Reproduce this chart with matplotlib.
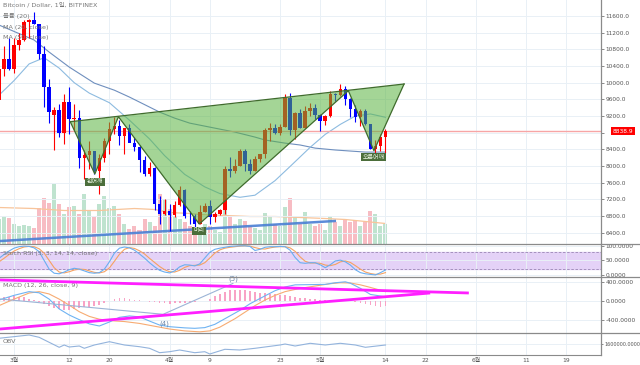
import numpy as np
import matplotlib
matplotlib.use('Agg')
import matplotlib.pyplot as plt
from matplotlib.lines import Line2D

plt.rcParams['font.family'] = ['DejaVu Sans', 'Noto Sans CJK KR']

# ---- 데이터: day index 0 = 2018-03-01 ----
days = np.arange(-3, 75)
opens = [9590, 10320, 10580, 10330, 10900, 11030, 11450, 11500, 11420, 10700, 9900, 9225, 9340, 8790,
         9540, 9140, 9150, 8200, 8260, 8350, 7880, 8200, 8600, 8900, 8950, 8720, 8920, 8550, 8450, 8140,
         7800, 7960, 7100, 6850, 6930, 6820, 7060, 7420, 6800, 6790, 6620, 6900, 7030, 6780, 6840, 6950,
         7920, 7890, 8000, 8360, 8050, 7890, 8170, 8280, 8860, 8920, 8800, 8930, 9640, 8860, 9280, 8920,
         9330, 9400, 9230, 9070, 9210, 9730, 9700, 9850, 9620, 9360, 9180, 9310, 9000, 8400, 8470, 8690]
highs = [10420, 10870, 11070, 11080, 11190, 11500, 11530, 11690, 11420, 10880, 10100, 9420, 9500, 9730,
         9890, 9480, 9350, 8390, 8600, 8350, 8280, 8680, 9050, 9180, 9100, 8920, 9020, 8700, 8500, 8230,
         8100, 7980, 7270, 7200, 7080, 7150, 7530, 7440, 6930, 6860, 7070, 7120, 7180, 6890, 6980, 8000,
         8220, 8180, 8420, 8410, 8180, 8250, 8300, 8920, 9030, 9000, 9000, 9720, 9750, 9300, 9380, 9430,
         9520, 9480, 9240, 9230, 9810, 9750, 9970, 9930, 9640, 9460, 9360, 9380, 9010, 8620, 8760, 8880]
lows = [9380, 10150, 10300, 10240, 10780, 11010, 11080, 11410, 10570, 9420, 9030, 8380, 8700, 8530,
        8780, 8870, 7960, 7700, 7920, 7800, 7330, 8100, 8300, 8780, 8500, 8300, 8570, 8370, 7850, 7770,
        7760, 6950, 6600, 6820, 6430, 6780, 7050, 6750, 6600, 6520, 6610, 6890, 6620, 6660, 6820, 6860,
        7740, 7830, 7990, 7890, 7820, 7880, 8100, 8200, 8610, 8770, 8750, 8930, 8750, 8650, 8910, 8920,
        9200, 9130, 8830, 8980, 9180, 9550, 9690, 9460, 9180, 9050, 8970, 8980, 8400, 8200, 8350, 8320]
closes = [10320, 10580, 10330, 10900, 11030, 11450, 11500, 11420, 10700, 9900, 9290, 9340, 8790, 9540,
          9140, 9150, 8200, 8260, 8350, 7880, 8200, 8600, 8900, 8950, 8720, 8920, 8550, 8450, 8140, 7800,
          7960, 7100, 6850, 6930, 6820, 7060, 7420, 6800, 6790, 6620, 6900, 7030, 6780, 6840, 6950, 7920,
          7890, 8000, 8360, 8050, 7890, 8170, 8280, 8860, 8920, 8800, 8930, 9640, 8860, 9280, 8920, 9330,
          9400, 9230, 9070, 9210, 9730, 9700, 9850, 9620, 9360, 9180, 9310, 9000, 8400, 8470, 8690, 8838.9]
volume = [25, 28, 26, 20, 18, 19, 18, 16, 36, 46, 41, 60, 40, 30, 37, 38, 30, 50, 34, 28, 40, 48, 36, 38,
          30, 20, 15, 18, 14, 25, 22, 18, 50, 45, 35, 28, 25, 22, 18, 16, 14, 20, 18, 14, 12, 36, 28, 20,
          25, 23, 18, 16, 14, 31, 28, 20, 18, 37, 46, 28, 20, 32, 20, 18, 20, 14, 28, 22, 18, 25, 22, 24,
          18, 22, 33, 30, 18, 20]  # 천 BTC
vol_ma_days = [-3, 4, 10, 17, 24, 28, 31, 35, 37, 42, 47, 52, 57, 62, 66, 70, 74]
vol_ma = [36, 35, 33, 33, 35, 34, 31, 30, 29, 28, 27, 27, 26, 25, 24, 22, 20]

ma20_days = [-3, 0, 3, 6, 9, 12, 15, 19, 23, 27, 30, 34, 38, 41, 45, 48, 52, 55, 59, 62, 65, 68, 71, 74]
ma20 = [9700, 10050, 10450, 10600, 10350, 10000, 9750, 9520, 9100, 8650, 8250, 7800, 7500, 7340, 7250,
        7300, 7650, 7990, 8450, 8760, 9000, 9200, 9250, 9170]
ma50_days = [-3, 4, 7, 11, 16, 20, 23, 25, 29, 32, 35, 40, 44, 48, 50, 54, 57, 60, 64, 67, 70, 74]
ma50 = [11385, 11025, 10735, 10375, 9990, 9820, 9655, 9535, 9295, 9150, 9030, 8910, 8815, 8695, 8625,
        8550, 8505, 8430, 8385, 8360, 8335, 8335]

# 패턴 꼭짓점 (day, price)
pat_x = [11.2, 16.1, 20.8, 36.9, 66.6, 71.7, 77.7]
pat_y = [9064, 7809, 9184, 6609, 9808, 8368, 9969]
trend_x = [-2.8, 63.9]
trend_y = [6200, 6681]
last_price = 8838.9

stoch_k = [57, 70, 82, 92, 97, 99, 98, 93, 80, 50, 20, 6, 4, 10, 18, 23, 20, 14, 8, 6, 8, 20, 45, 75, 92, 96,
           93, 85, 72, 58, 42, 28, 16, 10, 7, 14, 28, 35, 34, 31, 38, 58, 78, 88, 92, 95, 98, 99, 100, 100,
           98, 84, 88, 95, 97, 97, 98, 97, 85, 60, 42, 40, 42, 42, 35, 25, 35, 48, 51, 45, 34, 18, 8, 4, 2,
           0, 8, 17]
stoch_d = [45, 57, 70, 82, 90, 96, 98, 97, 90, 75, 50, 25, 10, 7, 11, 17, 20, 19, 14, 9, 7, 11, 24, 47, 71,
           88, 94, 91, 83, 72, 57, 43, 29, 18, 11, 10, 16, 26, 32, 33, 34, 42, 58, 75, 86, 92, 95, 97, 99,
           100, 99, 94, 90, 89, 93, 96, 97, 97, 93, 81, 62, 47, 41, 41, 40, 34, 32, 36, 45, 48, 43, 32, 20,
           10, 5, 2, 3, 8]

macd_days = [-3, 0, 3, 5, 7, 9, 11, 13, 15, 17, 19, 21, 23, 25, 27, 29, 31, 34, 36, 38, 40, 42, 45, 47, 50,
             52, 54, 56, 59, 62, 64, 66, 67, 69, 71, 74]
macd = [20, 120, 200, 175, 40, -170, -300, -400, -490, -535, -450, -350, -320, -340, -430, -515, -550,
        -575, -585, -570, -500, -380, -200, -60, 110, 220, 300, 345, 350, 355, 390, 410, 380, 270, 140, 90]
signal_days = [-3, 0, 3, 5, 7, 9, 11, 13, 15, 17, 19, 22, 25, 28, 31, 34, 37, 39, 41, 44, 46, 48, 50, 52,
               54, 57, 60, 63, 65, 67, 69, 71, 74]
signal = [-100, 40, 170, 200, 150, 40, -90, -230, -330, -390, -420, -440, -480, -540, -600, -640, -660,
          -640, -560, -380, -240, -100, 20, 120, 200, 270, 320, 370, 390, 385, 345, 290, 200]
hist = [60, 80, 95, 100, 95, 80, 50, 20, -20, -60, -110, -150, -180, -190, -185, -170, -150, -130, -120,
        -100, -80, -40, 0, 40, 60, 55, 45, 30, 15, 0, -15, -25, -40, -50, -55, -50, -45, -40, -30, -20,
        -10, 10, 50, 100, 150, 200, 230, 240, 235, 225, 210, 190, 180, 170, 155, 140, 130, 120, 105, 90,
        70, 55, 45, 35, 30, 25, 20, 20, 20, 15, 5, -20, -45, -70, -95, -110, -120, -115]
wave_x = [-2.8, 29.7, 43.6]
wave_y = [43, -285, 375]
macd_line1_x, macd_line1_y = [-2.8, 90.6], [450, 171]
macd_line2_x, macd_line2_y = [-2.8, 82.9], [-600, 171]

obv_days = [-3, 3, 5, 9, 10, 11, 13, 14, 16, 19, 22, 25, 27, 29, 31, 33, 36, 38, 39, 42, 45, 48, 53, 54,
            56, 59, 62, 65, 68, 70, 74]
obv = [1900000, 2065000, 1950000, 1450000, 1565000, 1465000, 1515000, 1400000, 1565000, 1730000, 1565000,
       1480000, 1400000, 1180000, 1230000, 1315000, 1180000, 1230000, 1115000, 1350000, 1315000, 1400000,
       1565000, 1615000, 1515000, 1650000, 1565000, 1650000, 1565000, 1450000, 1565000]

tick_days = [0, 11, 19, 31, 39, 53, 61, 74, 82, 92, 102, 110]
tick_labels = ['3월', '12', '20', '4월', '9', '23', '5월', '14', '22', '6월', '11', '19']
price_ticks = np.arange(6400, 11601, 400)

# ---- 레이아웃 ----
W, H = 640, 365
fig = plt.figure(figsize=(W / 100, H / 100), dpi=100)
XR = 601


def box(y0, y1):
    return [0, 1 - y1 / H, XR / W, (y1 - y0) / H]


ax = fig.add_axes(box(0, 243.5))
axs = fig.add_axes(box(243.5, 277))
axm = fig.add_axes(box(277, 333))
axo = fig.add_axes(box(333, 355))
xlim = (-2.79, 116.93)
grid_c = '#e9f0f6'
txt_c = '#555555'

for a in [ax, axs, axm, axo]:
    a.set_xlim(*xlim)
    a.set_xticks(tick_days)
    a.tick_params(axis='x', length=0, labelbottom=False)
    a.yaxis.tick_right()
    a.tick_params(axis='y', length=2, width=0.6, colors='#777777', labelsize=4.2, labelcolor=txt_c, pad=1.5)
    for s in ['top', 'left', 'bottom']:
        a.spines[s].set_visible(False)
    a.spines['right'].set_color('#8a8a8a')
    a.spines['right'].set_linewidth(0.9)
    a.grid(True, color=grid_c, linewidth=0.7)
    a.set_axisbelow(True)

# 볼륨 (뒤쪽 축)
axv = ax.twinx()
axv.set_ylim(0, 243.5)
axv.axis('off')
ax.set_zorder(axv.get_zorder() + 1)
ax.patch.set_visible(False)
ax.yaxis.tick_right()
up = np.array(closes) >= np.array(opens)
vcol = np.where(up, '#bfe3cf', '#f7bcc3')
axv.bar(days, volume, width=0.8, color=vcol, zorder=1)
axv.plot(vol_ma_days, vol_ma, color='#f8c49a', linewidth=0.9, zorder=2)

# 가격
ax.set_ylim(6141, 11985)
ax.set_yticks(price_ticks)
ax.set_yticklabels(['' if v == 8800 else f'{v:.1f}' for v in price_ticks])
ax.plot(trend_x, trend_y, color='#4a7fd4', linewidth=1.8, alpha=0.9, zorder=2)
ax.plot(ma50_days, ma50, color='#6f8fbe', linewidth=0.8, zorder=2)
ax.plot(ma20_days, ma20, color='#8dbbe0', linewidth=0.8, zorder=2)
ccol = np.where(up, '#ff0000', '#0000ff')
ax.vlines(days, lows, highs, colors=ccol, linewidth=0.8, zorder=3)
body_lo = np.minimum(opens, closes)
body_h = np.maximum(np.abs(np.array(closes) - np.array(opens)), 15)
ax.bar(days, body_h, bottom=body_lo, width=0.7, color=ccol, zorder=3)
ax.axhline(last_price, color='#f7a5a5', linewidth=1.0, zorder=2)

# 패턴 삼각형
tri_fill = (0.35, 0.70, 0.25)
for i in (0, 2, 4):
    ax.fill(pat_x[i:i + 3], pat_y[i:i + 3], color=tri_fill, alpha=0.55, zorder=4, linewidth=0)
ax.plot(pat_x, pat_y, color='#3f6b2c', linewidth=0.9, zorder=5)
ax.plot([pat_x[0], pat_x[-1]], [pat_y[0], pat_y[-1]], color='#3f6b2c', linewidth=0.9, zorder=5)
for (lx, ly, s) in [(16.1, 7624, '왼어깨'), (36.9, 6448, '머리'), (71.7, 8210, '오른어깨')]:
    ax.text(lx, ly, s, fontsize=4.3, color='#e8f3e0', ha='center', va='center', zorder=6,
            bbox=dict(boxstyle='square,pad=0.25', facecolor='#4b6e3b', edgecolor='none'))

ax.text(119.3, last_price, f'{last_price:.1f}', fontsize=4.2, color='white', ha='left', va='center',
        zorder=7, clip_on=False, bbox=dict(boxstyle='square,pad=0.3', facecolor='#ff0000', edgecolor='none'))

legend_lines = ['Bitcoin / Dollar, 1일, BITFINEX', '볼륨 (20)', 'MA (20, close)', 'MA (50, close)']
for i, s in enumerate(legend_lines):
    ax.text(0.005, 1 - (5 + i * 11) / 243.5, s, transform=ax.transAxes, fontsize=4.6, color='#777777',
            va='center', ha='left', zorder=8)

# Stoch RSI
axs.set_ylim(-7, 108)
axs.set_yticks([0, 50, 100])
axs.set_yticklabels(['0.0000', '50.0000', '100.0000'])
axs.axhspan(20, 80, color='#e4d2f7', zorder=0)
axs.axhline(80, color='#9a86b5', linewidth=0.6, linestyle=(0, (3, 2)))
axs.axhline(20, color='#9a86b5', linewidth=0.6, linestyle=(0, (3, 2)))
axs.plot(days, stoch_d, color='#f5a262', linewidth=0.8)
axs.plot(days, stoch_k, color='#6aaef0', linewidth=0.8)
axs.text(0.005, 0.7, 'Stoch RSI (3, 3, 14, 14, close)', transform=axs.transAxes, fontsize=4.6,
         color='#777777', va='center')

# MACD
axm.set_ylim(-685, 513)
axm.set_yticks([-400, 0, 400])
axm.set_yticklabels(['-400.0000', '0.0000', '400.0000'])
axm.bar(days, hist, width=0.35, color='#f8a3c6', zorder=2)
axm.plot(signal_days, signal, color='#f7ab72', linewidth=0.8, zorder=3)
axm.plot(macd_days, macd, color='#6fb3f2', linewidth=0.8, zorder=3)
axm.plot(wave_x, wave_y, color='#9cb4d6', linewidth=0.8, zorder=3)
axm.text(43.6, 470, '(5)', fontsize=5, color='#6a86aa', ha='center', va='center')
axm.text(29.9, -480, '(4)', fontsize=5, color='#6a86aa', ha='center', va='center')
axm.plot(macd_line1_x, macd_line1_y, color='#ff1fff', linewidth=2.0, zorder=4, solid_capstyle='butt')
axm.plot(macd_line2_x, macd_line2_y, color='#ff1fff', linewidth=2.0, zorder=4, solid_capstyle='butt')
axm.text(0.005, 0.84, 'MACD (12, 26, close, 9)', transform=axm.transAxes, fontsize=4.6, color='#777777',
         va='center')

# OBV
axo.set_ylim(1065000, 2165000)
axo.set_yticks([1600000])
axo.set_yticklabels(['1600000.0000'])
axo.tick_params(axis='y', labelsize=3.5, pad=0.8, length=1.5)
axo.plot(obv_days, obv, color='#93b3dc', linewidth=0.8)
axo.text(0.005, 0.62, 'OBV', transform=axo.transAxes, fontsize=4.6, color='#777777', va='center')
axo.spines['bottom'].set_visible(True)
axo.spines['bottom'].set_color('#8a8a8a')
axo.tick_params(axis='x', labelbottom=True, labelsize=4.3, labelcolor=txt_c, pad=2.5)
axo.set_xticklabels(tick_labels)

# 패널 구분선
for yy in [243.5, 277, 333]:
    fig.add_artist(Line2D([0, 1], [1 - yy / H, 1 - yy / H], color='#8a8a8a', linewidth=0.9))

fig.savefig('out.png', dpi=100, facecolor='white')
